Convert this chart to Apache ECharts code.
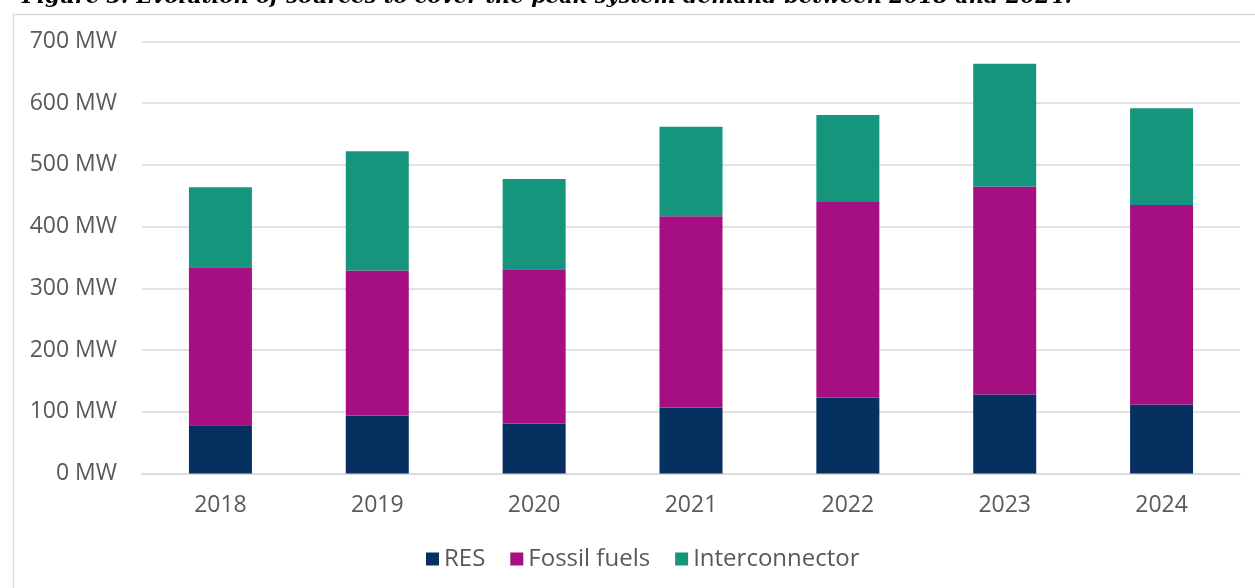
<!DOCTYPE html>
<html>
<head>
<meta charset="utf-8">
<script src="https://cdn.jsdelivr.net/npm/echarts@6/dist/echarts.min.js"></script>
<style>
  html, body { margin: 0; padding: 0; background: #ffffff; }
  #chart { width: 1255px; height: 588px; }
</style>
</head>
<body>
<div id="chart"></div>
<script>
// Peak system demand coverage by source, MW
const years = ['2018', '2019', '2020', '2021', '2022', '2023', '2024'];
const resValues = [78, 94, 81, 107, 123, 128, 112];
const fossilValues = [256, 235, 250, 310, 317, 337, 323];
const interconnectorValues = [130, 193, 146, 145, 141, 199, 157];
const seriesNames = ['RES', 'Fossil fuels', 'Interconnector'];
const figureCaption = 'Figure 3: Evolution of sources to cover the peak system demand between 2018 and 2024.';

const textColor = '#595959';
const gridColor = '#d9d9d9';
const uiFont = '"Open Sans", "DejaVu Sans", sans-serif';

const chart = echarts.init(document.getElementById('chart'), null, { renderer: 'canvas' });

function barSeries(name, data, color) {
  return {
    name: name,
    type: 'bar',
    stack: 'total',
    data: data,
    barWidth: 63,
    itemStyle: { color: color },
    emphasis: { disabled: true }
  };
}

chart.setOption({
  animation: false,
  backgroundColor: '#ffffff',
  graphic: [
    {
      type: 'rect',
      left: 11, top: 12,
      shape: { width: 1300, height: 640 },
      style: { fill: 'none', stroke: gridColor, lineWidth: 1.5 },
      silent: true, z: -1
    },
    {
      type: 'text',
      left: 22, top: -13,
      style: {
        text: figureCaption,
        font: 'italic bold 21px "DejaVu Serif", serif',
        fill: '#000000'
      },
      silent: true
    }
  ],
  grid: { left: 142, right: 15, top: 41.5, bottom: 114.5, containLabel: false },
  legend: {
    data: seriesNames,
    left: 421,
    top: 542,
    icon: 'rect',
    itemWidth: 13,
    itemHeight: 13,
    itemGap: 25,
    textStyle: { color: textColor, fontSize: 24, fontFamily: uiFont }
  },
  xAxis: {
    type: 'category',
    data: years,
    axisLine: { show: true, lineStyle: { color: gridColor, width: 1.5 } },
    axisTick: { show: false },
    axisLabel: { color: textColor, fontSize: 23, fontFamily: uiFont, margin: 20 }
  },
  yAxis: {
    type: 'value',
    min: 0, max: 700, interval: 100,
    axisLine: { show: false },
    axisTick: { show: false },
    splitLine: { lineStyle: { color: gridColor, width: 1.5 } },
    axisLabel: {
      color: textColor, fontSize: 23, fontFamily: uiFont, margin: 25,
      formatter: v => v + ' MW'
    }
  },
  series: [
    barSeries(seriesNames[0], resValues, '#05305f'),
    barSeries(seriesNames[1], fossilValues, '#a50f81'),
    barSeries(seriesNames[2], interconnectorValues, '#15967c')
  ]
});
</script>
</body>
</html>
